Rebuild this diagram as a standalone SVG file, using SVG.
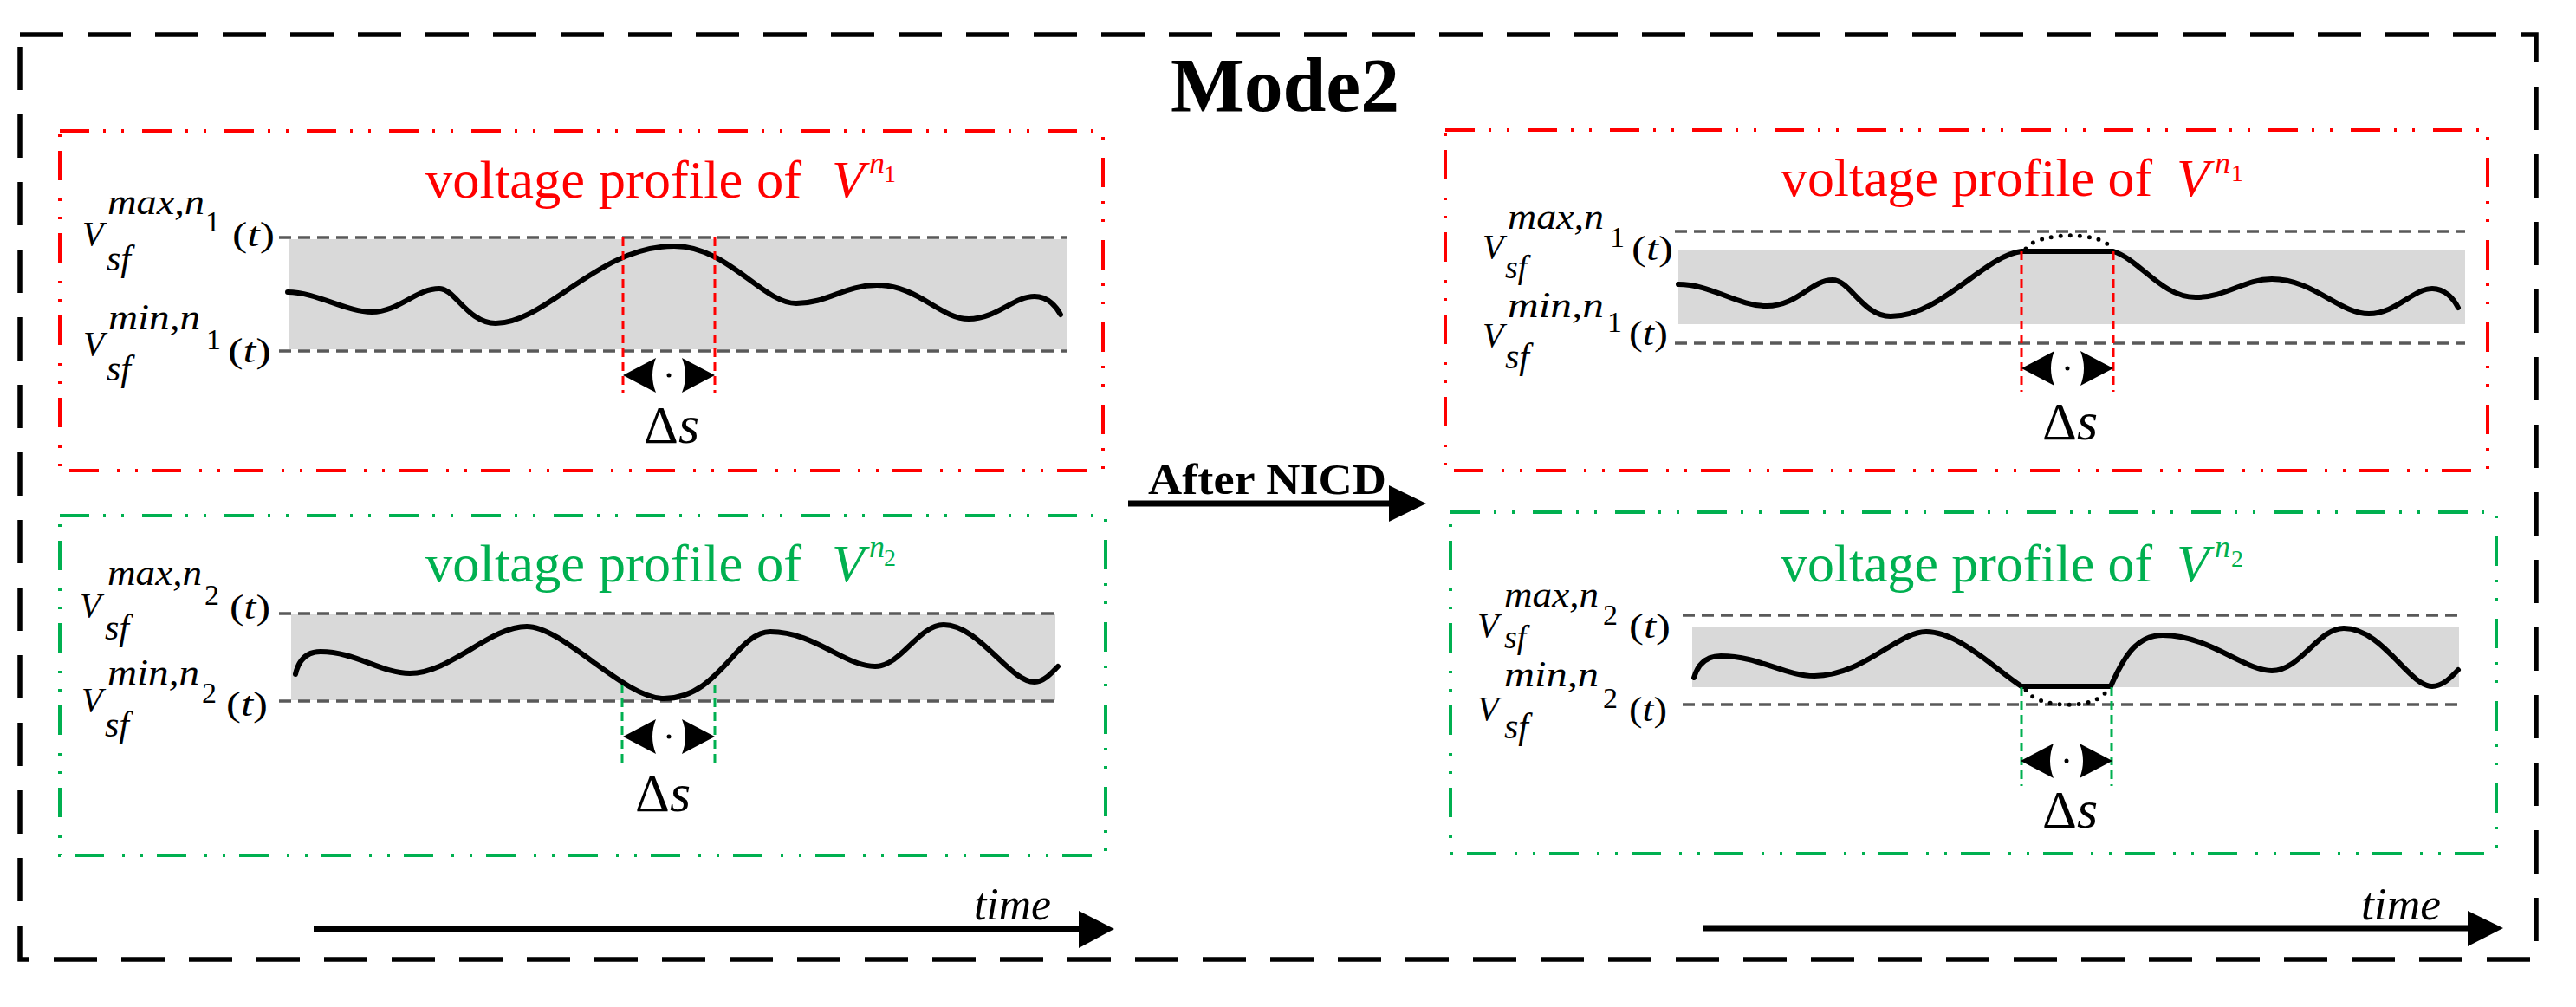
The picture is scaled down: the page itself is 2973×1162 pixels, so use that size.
<svg xmlns="http://www.w3.org/2000/svg" xmlns:xlink="http://www.w3.org/1999/xlink" width="2973" height="1162" viewBox="0 0 2973 1162">
<style>
.serif{font-family:"Liberation Serif","Times New Roman",serif;}
.it{font-style:italic;}
.outer{fill:none;stroke:#000;stroke-width:5.5;stroke-dasharray:50 28;}
.redbox{fill:none;stroke:#FF0000;stroke-width:4;stroke-dasharray:34 16 3 18 3 21;}
.greenbox{fill:none;stroke:#00B050;stroke-width:4;stroke-dasharray:34 16 3 18 3 21;}
.band{fill:#D9D9D9;stroke:none;}
.lim{stroke:#595959;stroke-width:3.5;stroke-dasharray:14 8;fill:none;}
.curve{fill:none;stroke:#000;stroke-width:6;stroke-linecap:round;stroke-linejoin:round;}
.vred{stroke:#FF0000;stroke-width:3;stroke-dasharray:10 6;fill:none;}
.vgreen{stroke:#00B050;stroke-width:3;stroke-dasharray:10 6;fill:none;}
.dots{fill:none;stroke:#000;stroke-width:5;stroke-linecap:round;stroke-dasharray:0 11;}
.axis{stroke:#000;stroke-width:7;fill:none;}
.lbl{font-size:40px;fill:#000;}
.sup{font-size:42px;fill:#000;}
.sup2{font-size:38px;fill:#000;}
.sub{font-size:34px;fill:#000;}
.title{font-size:62px;}
.tsup{font-size:36px;}
.tsub{font-size:28px;}
.red{fill:#FF0000;}
.green{fill:#00B050;}
</style>
<defs>
<g id="dbl">
<path d="M0,0 L38,-20 Q30,0 38,20 Z M106,0 L68,-20 Q76,0 68,20 Z" fill="#000"/>
<circle cx="53" cy="0" r="2.5" fill="#000"/>
</g>
</defs>

<g id="frame">
<rect class="outer" x="23" y="40" width="2904" height="1067"/>
<text class="serif" x="1351" y="128" font-size="88" font-weight="bold" textLength="264" lengthAdjust="spacingAndGlyphs">Mode2</text>
</g>

<!-- Left red panel -->
<g id="panel-left-red">
<rect class="redbox" x="69" y="151" width="1204" height="392"/>
<text class="serif title red" x="491" y="228" textLength="434" lengthAdjust="spacingAndGlyphs">voltage profile of</text>
<text class="serif title red it" x="960" y="228">V</text>
<text class="serif tsup red it" x="1003" y="200">n</text>
<text class="serif tsub red" x="1020" y="210">1</text>
<rect class="band" x="333" y="276" width="898" height="127"/>
<line class="lim" x1="322" y1="274" x2="1232" y2="274"/>
<line class="lim" x1="322" y1="405" x2="1232" y2="405"/>
<path class="curve" d="M332,337 C365,337 400,360 429,360 C460,360 480,333 507,333 C525,333 540,373 572,373 C630,373 690,284 778,284 C840,284 880,350 919,350 C955,350 975,329 1012,329 C1060,329 1085,368 1118,368 C1150,368 1170,342 1194,342 C1210,342 1220,355 1224,363"/>
<line class="vred" x1="719" y1="274" x2="719" y2="453"/>
<line class="vred" x1="825" y1="274" x2="825" y2="453"/>
<use xlink:href="#dbl" x="719" y="433"/>
<text class="serif" x="743" y="511" font-size="62">Δ<tspan class="it">s</tspan></text>
<g class="serif">
<text class="lbl it" x="95" y="283">V</text>
<text class="sup it" x="124" y="247" textLength="112" lengthAdjust="spacingAndGlyphs">max,n</text>
<text class="sub" x="237" y="267">1</text>
<text class="lbl" x="268" y="284" textLength="49" lengthAdjust="spacingAndGlyphs">(<tspan class="it">t</tspan>)</text>
<text class="sup it" x="123" y="312">sf</text>
<text class="lbl it" x="96" y="410">V</text>
<text class="sup it" x="125" y="380" textLength="106" lengthAdjust="spacingAndGlyphs">min,n</text>
<text class="sub" x="238" y="403">1</text>
<text class="lbl" x="263" y="418" textLength="50" lengthAdjust="spacingAndGlyphs">(<tspan class="it">t</tspan>)</text>
<text class="sup it" x="123" y="439">sf</text>
</g>
</g>

<!-- Left green panel -->
<g id="panel-left-green">
<rect class="greenbox" x="69" y="595" width="1207" height="392"/>
<text class="serif title green" x="491" y="671" textLength="434" lengthAdjust="spacingAndGlyphs">voltage profile of</text>
<text class="serif title green it" x="960" y="671">V</text>
<text class="serif tsup green it" x="1003" y="643">n</text>
<text class="serif tsub green" x="1020" y="653">2</text>
<rect class="band" x="336" y="708" width="882" height="100"/>
<line class="lim" x1="322" y1="708" x2="1218" y2="708"/>
<line class="lim" x1="322" y1="809" x2="1218" y2="809"/>
<path class="curve" d="M341,778 C345,760 355,752 370,752 C410,752 440,777 473,777 C520,777 565,723 608,723 C650,723 720,806 766,806 C830,806 850,729 889,729 C940,729 975,769 1010,769 C1040,769 1060,721 1089,721 C1130,721 1165,787 1194,787 C1205,787 1215,775 1221,769"/>
<line class="vgreen" x1="718" y1="790" x2="718" y2="886"/>
<line class="vgreen" x1="825" y1="790" x2="825" y2="886"/>
<use xlink:href="#dbl" x="719" y="850"/>
<text class="serif" x="733" y="936" font-size="62">Δ<tspan class="it">s</tspan></text>
<g class="serif">
<text class="lbl it" x="92" y="712">V</text>
<text class="sup it" x="124" y="675" textLength="109" lengthAdjust="spacingAndGlyphs">max,n</text>
<text class="sub" x="236" y="698">2</text>
<text class="lbl" x="265" y="714" textLength="47" lengthAdjust="spacingAndGlyphs">(<tspan class="it">t</tspan>)</text>
<text class="sup it" x="121" y="738">sf</text>
<text class="lbl it" x="94" y="821">V</text>
<text class="sup it" x="124" y="790" textLength="106" lengthAdjust="spacingAndGlyphs">min,n</text>
<text class="sub" x="233" y="811">2</text>
<text class="lbl" x="261" y="826" textLength="48" lengthAdjust="spacingAndGlyphs">(<tspan class="it">t</tspan>)</text>
<text class="sup it" x="121" y="850">sf</text>
</g>
</g>

<!-- Right red panel -->
<g id="panel-right-red">
<rect class="redbox" x="1668" y="150" width="1203" height="393"/>
<text class="serif title red" x="2055" y="226" textLength="429" lengthAdjust="spacingAndGlyphs">voltage profile of</text>
<text class="serif title red it" x="2512" y="226">V</text>
<text class="serif tsup red it" x="2556" y="200">n</text>
<text class="serif tsub red" x="2575" y="209">1</text>
<rect class="band" x="1937" y="288" width="908" height="86"/>
<line class="lim" x1="1933" y1="267" x2="2845" y2="267"/>
<line class="lim" x1="1933" y1="396" x2="2845" y2="396"/>
<path class="curve" d="M1937,328 C1975,328 2005,353 2039,353 C2075,353 2090,323 2115,323 C2135,323 2150,365 2182,365 C2240,365 2290,295 2333,290 L2439,290 C2470,300 2495,343 2534,343 C2570,343 2590,322 2622,322 C2670,322 2700,362 2734,362 C2765,362 2785,333 2807,333 C2822,333 2832,345 2837,355"/>
<path class="dots" d="M2338,287 C2350,268 2425,266 2436,286"/>
<line class="vred" x1="2333" y1="290" x2="2333" y2="452"/>
<line class="vred" x1="2439" y1="290" x2="2439" y2="452"/>
<use xlink:href="#dbl" x="2333" y="425"/>
<text class="serif" x="2357" y="507" font-size="62">Δ<tspan class="it">s</tspan></text>
<g class="serif">
<text class="lbl it" x="1711" y="298">V</text>
<text class="sup it" x="1740" y="264" textLength="111" lengthAdjust="spacingAndGlyphs">max,n</text>
<text class="sub" x="1858" y="285">1</text>
<text class="lbl" x="1883" y="300" textLength="48" lengthAdjust="spacingAndGlyphs">(<tspan class="it">t</tspan>)</text>
<text class="sup2 it" x="1737" y="321">sf</text>
<text class="lbl it" x="1711" y="400">V</text>
<text class="sup it" x="1740" y="366" textLength="111" lengthAdjust="spacingAndGlyphs">min,n</text>
<text class="sub" x="1855" y="383">1</text>
<text class="lbl" x="1880" y="398" textLength="45" lengthAdjust="spacingAndGlyphs">(<tspan class="it">t</tspan>)</text>
<text class="sup it" x="1737" y="425">sf</text>
</g>
</g>

<!-- Right green panel -->
<g id="panel-right-green">
<rect class="greenbox" x="1674" y="591" width="1207" height="394"/>
<text class="serif title green" x="2055" y="671" textLength="429" lengthAdjust="spacingAndGlyphs">voltage profile of</text>
<text class="serif title green it" x="2512" y="671">V</text>
<text class="serif tsup green it" x="2556" y="643">n</text>
<text class="serif tsub green" x="2575" y="654">2</text>
<rect class="band" x="1953" y="723" width="885" height="70"/>
<line class="lim" x1="1942" y1="710" x2="2838" y2="710"/>
<line class="lim" x1="1942" y1="813" x2="2838" y2="813"/>
<path class="curve" d="M1955,782 C1960,765 1970,757 1986,757 C2030,757 2060,780 2094,780 C2150,780 2190,729 2223,729 C2260,729 2300,770 2333,792 L2436,792 C2450,760 2465,733 2496,733 C2550,733 2590,774 2622,774 C2655,774 2675,725 2705,725 C2750,725 2780,792 2807,792 C2820,792 2830,780 2837,773"/>
<path class="dots" d="M2338,796 C2350,818 2420,820 2432,796"/>
<line class="vgreen" x1="2333" y1="793" x2="2333" y2="907"/>
<line class="vgreen" x1="2437" y1="793" x2="2437" y2="907"/>
<use xlink:href="#dbl" x="2332" y="878"/>
<text class="serif" x="2357" y="955" font-size="62">Δ<tspan class="it">s</tspan></text>
<g class="serif">
<text class="lbl it" x="1705" y="735">V</text>
<text class="sup it" x="1736" y="700" textLength="109" lengthAdjust="spacingAndGlyphs">max,n</text>
<text class="sub" x="1850" y="721">2</text>
<text class="lbl" x="1880" y="736" textLength="48" lengthAdjust="spacingAndGlyphs">(<tspan class="it">t</tspan>)</text>
<text class="sup2 it" x="1736" y="748">sf</text>
<text class="lbl it" x="1705" y="831">V</text>
<text class="sup it" x="1736" y="792" textLength="109" lengthAdjust="spacingAndGlyphs">min,n</text>
<text class="sub" x="1850" y="817">2</text>
<text class="lbl" x="1880" y="832" textLength="44" lengthAdjust="spacingAndGlyphs">(<tspan class="it">t</tspan>)</text>
<text class="sup it" x="1736" y="852">sf</text>
</g>
</g>

<!-- Connectors / arrows -->
<g id="connectors">
<line class="axis" x1="1302" y1="581" x2="1606" y2="581"/>
<path d="M1603,560 L1646,581 L1603,602 Z" fill="#000"/>
<text class="serif" x="1325" y="570" font-size="50" font-weight="bold" textLength="275" lengthAdjust="spacingAndGlyphs">After NICD</text>
<line class="axis" x1="362" y1="1072" x2="1248" y2="1072"/>
<path d="M1245,1051 L1286,1072 L1245,1094 Z" fill="#000"/>
<text class="serif it" x="1124" y="1061" font-size="52" textLength="89" lengthAdjust="spacingAndGlyphs">time</text>
<line class="axis" x1="1966" y1="1071" x2="2851" y2="1071"/>
<path d="M2848,1051 L2889,1071 L2848,1092 Z" fill="#000"/>
<text class="serif it" x="2725" y="1061" font-size="52" textLength="92" lengthAdjust="spacingAndGlyphs">time</text>
</g>
</svg>
